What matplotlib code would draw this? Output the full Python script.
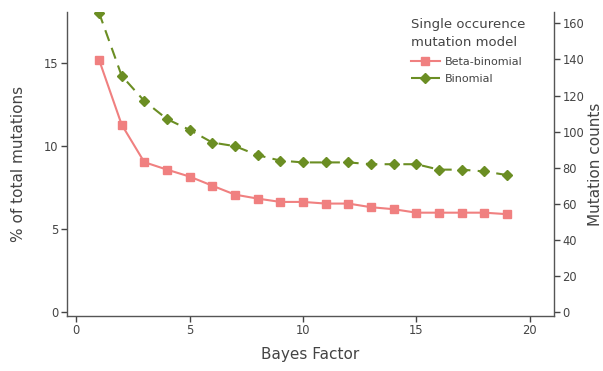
import matplotlib
matplotlib.use("Agg")
import matplotlib.pyplot as plt

bayes_factor = list(range(1, 20))
beta_binomial_pct = [15.23, 11.30, 9.03, 8.58, 8.16, 7.61, 7.07, 6.83, 6.63, 6.63,
                     6.53, 6.53, 6.31, 6.19, 5.98, 5.98, 5.98, 5.98, 5.89]
binomial_counts = [166, 131, 117, 107, 101, 94, 92, 87, 84, 83,
                   83, 83, 82, 82, 82, 79, 79, 78, 76]

left_ticks = [0, 5, 10, 15]
right_ticks = [0, 20, 40, 60, 80, 100, 120, 140, 160]
x_ticks = [0, 5, 10, 15, 20]

TXT = "#444444"
BETA = "#F08080"
BINO = "#6B8E23"

plt.rcParams['font.family'] = ['DejaVu Sans']

fig = plt.figure(figsize=(6.03, 3.71), dpi=100)
ax = fig.add_axes([67/603, 1 - 316/371, (554 - 67)/603, (316 - 12)/371])
ax2 = ax.twinx()

l1, = ax.plot(bayes_factor, beta_binomial_pct, color=BETA, lw=1.5, marker='s',
              markersize=5.8, label='Beta-binomial', zorder=3)
l2, = ax2.plot(bayes_factor, binomial_counts, color=BINO, lw=1.5, ls=(0, (5.5, 3.5)),
               marker='D', markersize=5.2, label='Binomial', zorder=3)

ax.set_xlim(-0.41, 21.07)
ax.set_ylim(-0.26, 18.1)
ax2.set_ylim(-2.06, 166.3)

ax.set_xticks(x_ticks)
ax.set_yticks(left_ticks)
ax2.set_yticks(right_ticks)

for a in (ax, ax2):
    a.spines['top'].set_visible(False)
    a.tick_params(colors=TXT, labelsize=8.3, length=4, width=1, pad=2)
    for s in ['left', 'right', 'bottom']:
        a.spines[s].set_color('#555555')
        a.spines[s].set_linewidth(1)
ax.spines['right'].set_visible(False)
ax2.spines['left'].set_visible(False)
ax2.spines['bottom'].set_visible(False)

ax.set_xlabel('Bayes Factor', color=TXT, fontsize=11, labelpad=7)
ax.set_ylabel('% of total mutations', color=TXT, fontsize=11, labelpad=13)
ax2.set_ylabel('Mutation counts', color=TXT, fontsize=11, labelpad=3)

leg = ax2.legend(handles=[l1, l2], title='Single occurence\nmutation model',
                 loc='upper left', bbox_to_anchor=(0.69, 1.005), frameon=False,
                 fontsize=8, title_fontsize=9.5, handlelength=2.6,
                 borderpad=0.2, labelspacing=0.7, handletextpad=0.45)
leg._legend_box.align = 'left'
leg.get_title().set_color(TXT)
leg.get_title().set_linespacing(1.45)
for t in leg.get_texts():
    t.set_color(TXT)

fig.savefig('out.png', dpi=100)
